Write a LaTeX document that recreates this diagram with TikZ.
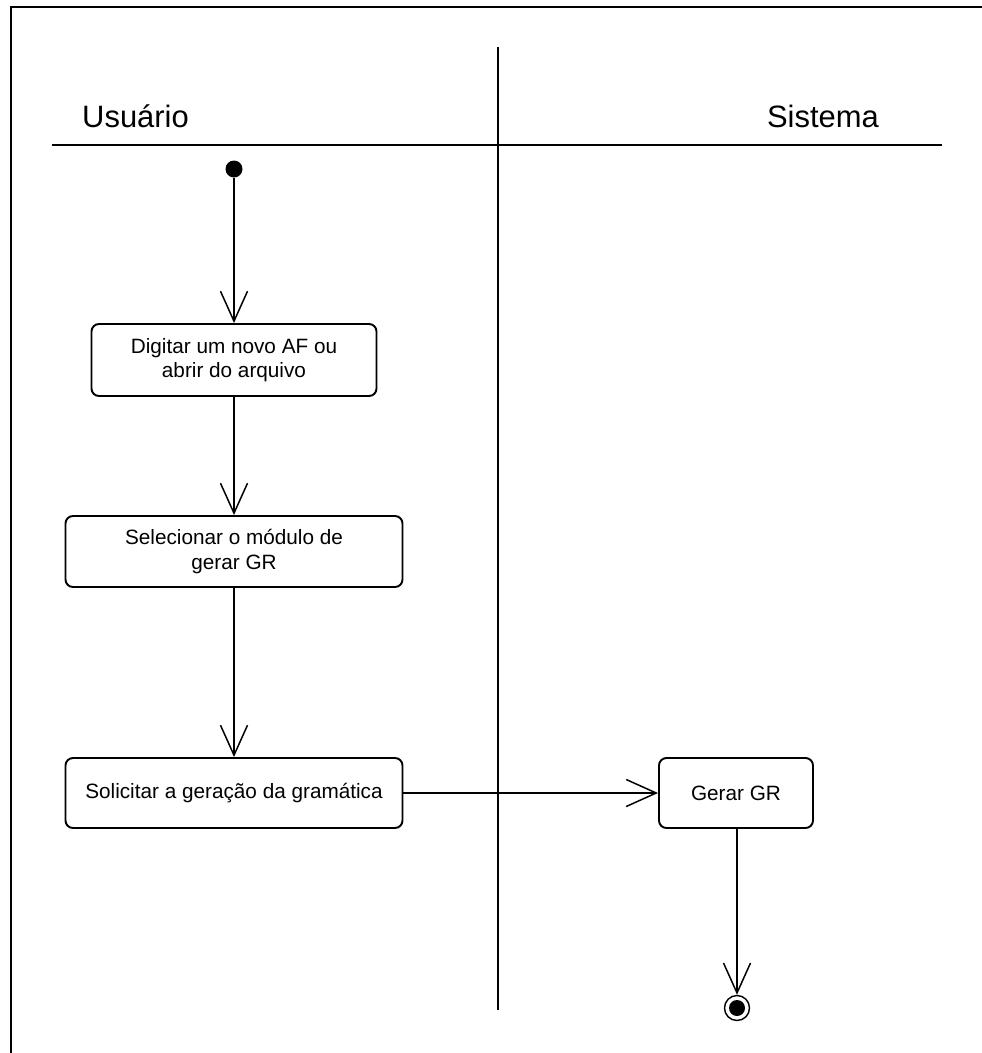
\documentclass[tikz,border=0pt]{standalone}
\usepackage{fontspec}
\setmainfont{Liberation Sans}
\usepackage{tikz}
\usetikzlibrary{arrows.meta, positioning}

\tikzset{
  acao/.style={draw, line width=1.1pt, rounded corners=0.15cm, align=center,
               inner sep=0pt, font=\fontsize{11.8}{14}\selectfont},
  fluxo/.style={line width=0.85pt, -{Straight Barb[length=0.6cm, width=0.54cm]}},
  raia/.style={font=\fontsize{17.6}{20}\selectfont}
}

\begin{document}
\begin{tikzpicture}
  \useasboundingbox (0,0) rectangle (19.64,-21.06);
  % moldura e raias
  \draw[line width=1.4pt] (0.22,-21.2) -- (0.22,-0.14) -- (19.8,-0.14);
  \draw[line width=0.8pt] (9.96,-0.94) -- (9.96,-20.2);
  \draw[line width=1.1pt] (1.04,-2.9) -- (18.84,-2.9);
  \node[raia, anchor=west] (usuario) at (1.52,-2.32) {Usuário};
  \node[raia, anchor=east] (sistema) at (17.7,-2.32) {Sistema};

  % atividades
  \node[circle, fill, inner sep=0pt, minimum size=0.34cm] (inicio) at (4.68,-3.38) {};
  \node[acao, minimum width=5.7cm, minimum height=1.44cm] (digitar) at (4.68,-7.2)
    {Digitar um novo AF ou\\abrir do arquivo};
  \node[acao, minimum width=6.74cm, minimum height=1.42cm] (selecionar) at (4.68,-11.03)
    {Selecionar o módulo de\\gerar GR};
  \node[acao, minimum width=6.74cm, minimum height=1.4cm] (solicitar) at (4.68,-15.86)
    {Solicitar a geração da gramática};
  \node[acao, minimum width=3.08cm, minimum height=1.4cm] (gerar) at (14.72,-15.86)
    {Gerar GR};
  \node[circle, draw, line width=0.8pt, inner sep=0pt, minimum size=0.5cm] (fim) at (14.74,-20.16) {};
  \fill (fim) circle (0.16cm);

  % transicoes
  \draw[fluxo] (inicio) -- (digitar);
  \draw[fluxo] (digitar) -- (selecionar);
  \draw[fluxo] (selecionar) -- (solicitar);
  \draw[fluxo] (solicitar) -- (gerar);
  \draw[fluxo] (gerar.south -| fim) -- (fim);
\end{tikzpicture}
\end{document}
